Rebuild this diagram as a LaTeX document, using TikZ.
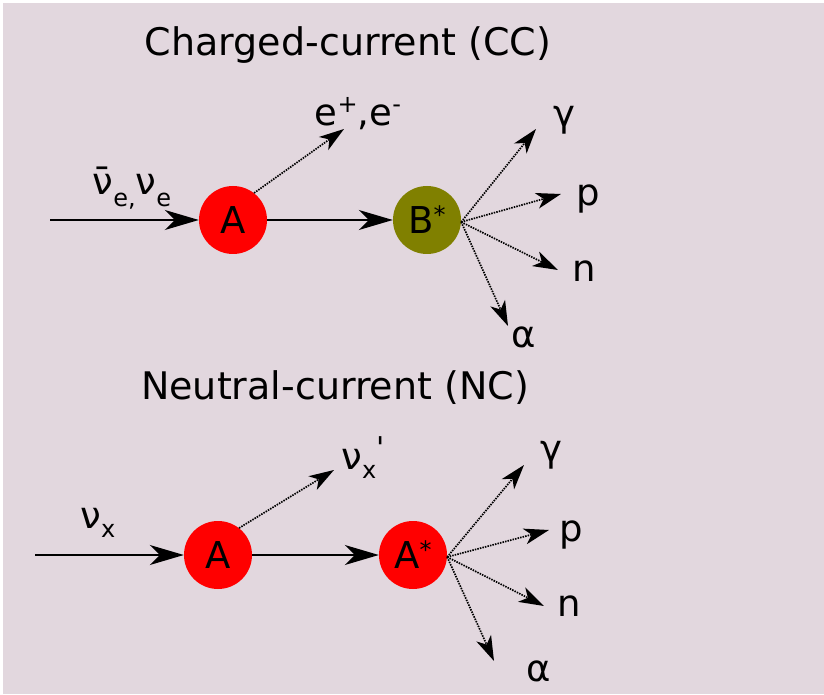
\documentclass[tikz,border=0pt]{standalone}
\usepackage{fontspec}
\setmainfont{DejaVu Sans}
\usetikzlibrary{arrows.meta}
\definecolor{bgc}{HTML}{E2D7DE}
\definecolor{olivec}{HTML}{808000}
\newcommand{\subt}[2][-12pt]{\raisebox{#1}{\fontsize{24}{24}\selectfont #2}}
\newcommand{\supt}[2][13pt]{\raisebox{#1}{\fontsize{24}{24}\selectfont #2}}
\tikzset{
  particle/.style={circle, minimum size=68pt, inner sep=0pt, font=\fontsize{37}{37}\selectfont},
  lbl/.style={font=\fontsize{37}{37}\selectfont, inner sep=0pt},
  ttl/.style={font=\fontsize{38}{38}\selectfont, inner sep=0pt},
  solidarr/.style={line width=1.8pt, -{Stealth[length=34pt,width=20pt,inset=10pt]}},
  dotarr/.style={line width=1.7pt, dash pattern=on 1.5pt off 1.1pt, -{Stealth[length=25pt,width=16pt,inset=7pt]}}
}
\begin{document}
\begin{tikzpicture}[x=1pt,y=1pt]
\useasboundingbox (0,0) rectangle (824,694);
\fill[white] (0,0) rectangle (824,694);
\fill[bgc] (3,0) rectangle (824,691);

% ---------- Charged current ----------
\node[ttl] (t1) at (348,649) {Charged-current (CC)};
\coordinate (in1) at (50,474);
\node[particle, fill=red] (A1) at (233,474) {A};
\node[particle, fill=olivec] (B1) at (427,474) {B\supt[10pt]{*}};
\node[lbl] (nu1) at (132,506) {ν̄\subt{e,}ν\subt{e}};
\draw[solidarr] (in1) -- (A1.west);
\draw[solidarr] (A1.east) -- (B1.west);
\coordinate (e1) at (344,565);
\node[lbl] (el1) at (358,580) {e\supt{+},e\supt{-}};
\draw[dotarr] (A1.52) -- (e1);
\coordinate (o1) at ([yshift=-2pt]B1.east);
\coordinate (g1e) at (536,565);
\coordinate (p1e) at (561,500);
\coordinate (n1e) at (558,424);
\coordinate (a1e) at (508,368);
\node[lbl] (g1) at (564,574) {γ};
\node[lbl] (p1) at (588,495) {p};
\node[lbl] (n1) at (584,423) {n};
\node[lbl] (a1) at (524,357) {α};
\draw[dotarr] (o1) -- (g1e);
\draw[dotarr] (o1) -- (p1e);
\draw[dotarr] (o1) -- (n1e);
\draw[dotarr] (o1) -- (a1e);

% ---------- Neutral current ----------
\node[ttl] (t2) at (335,306) {Neutral-current (NC)};
\coordinate (in2) at (35,139);
\node[particle, fill=red] (A2) at (218,139) {A};
\node[particle, fill=red] (B2) at (413,139) {A\supt[10pt]{*}};
\node[lbl] (nu2) at (98,171) {ν\subt[-9pt]{x}};
\draw[solidarr] (in2) -- (A2.west);
\draw[solidarr] (A2.east) -- (B2.west);
\coordinate (e2) at (334,224);
\node[lbl] (el2) at (363,236) {ν\subt[-9pt]{x}\raisebox{11pt}{\fontsize{30}{30}\selectfont\textquotesingle}};
\draw[dotarr] (A2.52) -- (e2);
\coordinate (o2) at ([yshift=-2pt]B2.east);
\coordinate (g2e) at (524,229);
\coordinate (p2e) at (549,164);
\coordinate (n2e) at (544,88);
\coordinate (a2e) at (494,33);
\node[lbl] (g2) at (551,239) {γ};
\node[lbl] (p2) at (571,159) {p};
\node[lbl] (n2) at (569,88) {n};
\node[lbl] (a2) at (539,23) {α};
\draw[dotarr] (o2) -- (g2e);
\draw[dotarr] (o2) -- (p2e);
\draw[dotarr] (o2) -- (n2e);
\draw[dotarr] (o2) -- (a2e);
\end{tikzpicture}
\end{document}
